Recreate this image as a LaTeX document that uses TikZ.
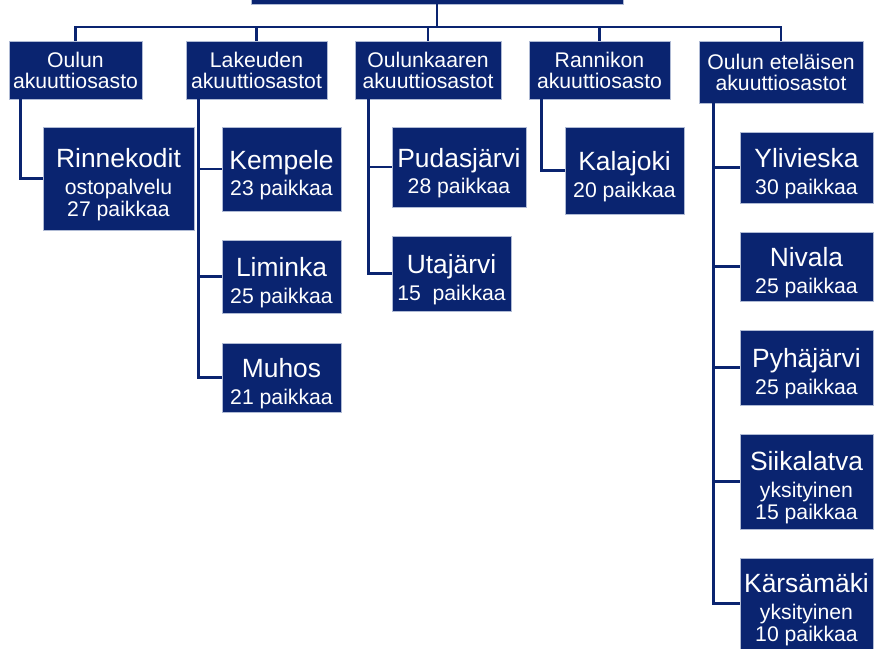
\documentclass[tikz,border=0pt]{standalone}
\usepackage{fontspec}
\setmainfont{Liberation Sans}
\definecolor{navy}{RGB}{10,36,112}
\definecolor{edgecol}{RGB}{175,186,212}
\tikzset{
  box/.style={fill=navy, draw=edgecol, line width=0.5pt, text=white, align=center,
    inner sep=0pt, font=\fontsize{15.9}{16.5}\selectfont},
  btxt/.style={text=white, align=center, inner sep=0pt, font=\fontsize{15.9}{16.5}\selectfont},
  lone/.style={font=\fontsize{15.9}{15.8}\selectfont},
  wh/.style 2 args={minimum width=#1*0.75pt, minimum height=#2*0.75pt},
  conn/.style={draw=navy, line width=1.9pt},
}
\newcommand{\boxtitle}[1]{{\fontsize{19.8}{20}\selectfont #1}}
\newcommand{\unitbox}[4]{%
  \node[box,wh=#3] (#1) at (#2) {};
  \node[btxt] (#1-t) at ([yshift=-4.5pt]#1.center) {#4};}
\begin{document}
\begin{tikzpicture}[x=0.75pt,y=-0.75pt]
\path[fill=white,use as bounding box] (0,0) rectangle (876,649);
% root
\node[box,wh={372}{28}] (root) at (437,-10) {};
% level 1
\node[box,lone,wh={133}{58}] (o1) at (75.5,70) {Oulun\\akuuttiosasto};
\node[box,lone,wh={141}{58}] (o2) at (256.5,70) {Lakeuden\\akuuttiosastot};
\node[box,lone,wh={146}{58}] (o3) at (428,70) {Oulunkaaren\\akuuttiosastot};
\node[box,lone,wh={141}{58}] (o4) at (599.5,70) {Rannikon\\akuuttiosasto};
\node[box,lone,wh={164}{62}] (o5) at (781,72) {Oulun eteläisen\\akuuttiosastot};
% level 2
\unitbox{rin}{118.5,178.5}{{151}{103}}{\boxtitle{Rinnekodit}\\[3.5pt]ostopalvelu\\27 paikkaa}
\unitbox{kem}{281.5,169}{{119}{84}}{\boxtitle{Kempele}\\[3.5pt]23 paikkaa}
\unitbox{lim}{281.5,276.5}{{119}{73}}{\boxtitle{Liminka}\\[3.5pt]25 paikkaa}
\unitbox{muh}{281.5,377.5}{{119}{69}}{\boxtitle{Muhos}\\[3.5pt]21 paikkaa}
\unitbox{pud}{459,167}{{134}{80}}{\boxtitle{Pudasjärvi}\\[3.5pt]28 paikkaa}
\unitbox{uta}{451.5,273.5}{{119}{75}}{\boxtitle{Utajärvi}\\[3.5pt]15~~paikkaa}
\unitbox{kal}{624.5,170.5}{{119}{87}}{\boxtitle{Kalajoki}\\[3.5pt]20 paikkaa}
\unitbox{yli}{806.5,167.5}{{133}{71}}{\boxtitle{Ylivieska}\\[3.5pt]30 paikkaa}
\unitbox{niv}{806.5,266.5}{{133}{69}}{\boxtitle{Nivala}\\[3.5pt]25 paikkaa}
\unitbox{pyh}{806.5,367.5}{{133}{75}}{\boxtitle{Pyhäjärvi}\\[3.5pt]25 paikkaa}
\unitbox{sii}{806.5,481.5}{{133}{95}}{\boxtitle{Siikalatva}\\[3.5pt]yksityinen\\15 paikkaa}
\unitbox{kar}{806.5,603.5}{{133}{91}}{\boxtitle{Kärsämäki}\\[3.5pt]yksityinen\\10 paikkaa}
% connectors
\coordinate (bus) at (437,27);
\draw[conn] (root.south) -- (bus);
\foreach \n in {o1,o2,o3,o4,o5} \draw[conn] (bus) -| (\n.north);
\draw[conn] ([xshift=9pt]o1.south west) |- (rin.west);
\foreach \n in {kem,lim,muh} \draw[conn] ([xshift=9.75pt]o2.south west) |- (\n.west);
\foreach \n in {pud,uta} \draw[conn] ([xshift=10.5pt]o3.south west) |- (\n.west);
\draw[conn] ([xshift=9.75pt]o4.south west) |- (kal.west);
\foreach \n in {yli,niv,pyh,sii,kar} \draw[conn] ([xshift=11.25pt]o5.south west) |- (\n.west);
\end{tikzpicture}
\end{document}
